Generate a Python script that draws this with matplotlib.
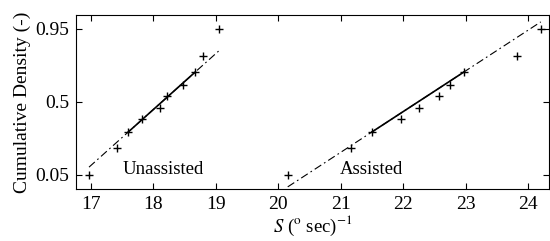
import matplotlib
matplotlib.use("Agg")
import matplotlib.pyplot as plt
import numpy as np
from statistics import NormalDist

plt.rcParams['font.family'] = ['Liberation Serif', 'DejaVu Serif']
plt.rcParams['mathtext.fontset'] = 'stix'

# Data (normal probability plot, n=10 each)
unassisted = [16.97, 17.42, 17.6, 17.82, 18.1, 18.22, 18.48, 18.67, 18.8, 19.05]
assisted = [20.15, 21.17, 21.5, 21.97, 22.25, 22.57, 22.75, 22.97, 23.82, 24.2]
prob_ticks = [0.05, 0.5, 0.95]
tick_labels = ["0.05", "0.5", "0.95"]
x_ticks = [17, 18, 19, 20, 21, 22, 23, 24]

nd = NormalDist()
def probit(p):
    return nd.inv_cdf(p)

fig = plt.figure(figsize=(5.5, 2.41), dpi=100)
ax = fig.add_axes([0.138, 0.216, 0.860, 0.722])

for data in (unassisted, assisted):
    x = np.sort(np.array(data))
    n = len(x)
    p = (np.arange(1, n + 1) - 0.5) / n
    y = np.array([probit(v) for v in p])
    ax.plot(x, y, '+', color='k', ms=6, mew=1.0)
    # fit line through quartiles
    q1, q3 = np.percentile(x, [25, 75], method='hazen')
    y1, y3 = probit(0.25), probit(0.75)
    slope = (y3 - y1) / (q3 - q1)
    xe = np.array([x.min(), x.max()])
    ye = y1 + slope * (xe - q1)
    ax.plot(xe, ye, color='k', lw=0.8, ls=(0, (7, 3, 1.5, 3)))
    ax.plot([q1, q3], [y1, y3], color='k', lw=1.2)

ax.set_xlim(16.76, 24.33)
ax.set_ylim(probit(0.025), probit(0.975))
ax.set_xticks(x_ticks)
ax.set_yticks([probit(v) for v in prob_ticks])
ax.set_yticklabels(tick_labels)
ax.tick_params(direction='in', top=True, right=True, labelsize=14, length=4, width=0.8, pad=5)
for s in ax.spines.values():
    s.set_linewidth(0.8)

ax.text(17.5, -1.53, "Unassisted", fontsize=13.5, va='center', ha='left')
ax.text(20.99, -1.53, "Assisted", fontsize=13.5, va='center', ha='left')

ax.set_ylabel("Cumulative Density (-)", fontsize=14, labelpad=3)
ax.set_xlabel(r"$S$ ($^{\rm o}$ sec)$^{-1}$", fontsize=13.5, labelpad=1)

fig.savefig("out.png", dpi=100)
